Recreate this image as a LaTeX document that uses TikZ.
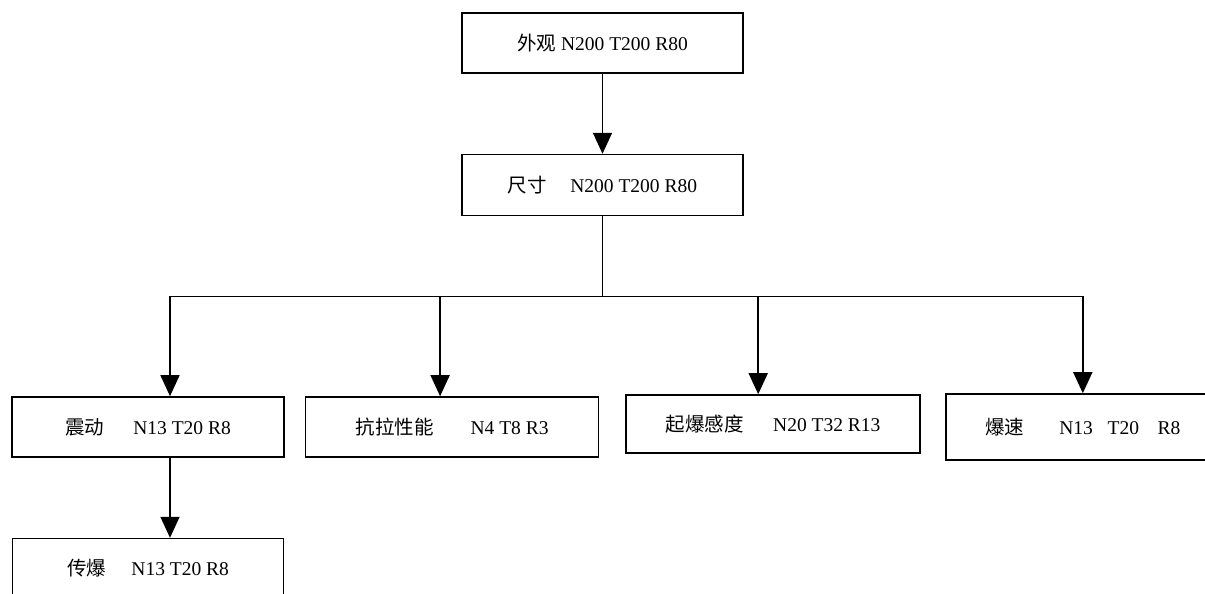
\documentclass[tikz,border=0pt]{standalone}
\usepackage{fontspec}
\setmainfont{Liberation Serif}
\newfontfamily\cjk{Noto Sans CJK SC}
\usepackage{tikz}
\usetikzlibrary{arrows.meta, positioning}

\begin{document}
\begin{tikzpicture}[x=1pt, y=-1pt,
    box/.style={draw, line width=1.6pt, minimum height=60pt, inner sep=0pt,
        font=\fontsize{19.5}{22}\selectfont},
    arr/.style={line width=1.6pt, -{Triangle[width=19pt,length=21pt]}}]
    \useasboundingbox (0,0) rectangle (1205,594);
    \clip (0,0) rectangle (1205,594);

	\node[box, minimum width=281pt] (wg) at (602.5,43) {{\cjk 外观} N200 T200 R80};
	\node[box, minimum width=281pt, minimum height=61pt] (cc) [below=80pt of wg] {{\cjk 尺寸}\hspace{1.2em}N200 T200 R80};
	\coordinate[below=80pt of cc.south] (jn);

	\node[box, minimum width=272pt] (zd) at (148,427) {{\cjk 震动}\hspace{1.5em}N13 T20 R8};
	\node[box, minimum width=293pt] (kl) [right=20pt of zd] {{\cjk 抗拉性能}\hspace{1.9em}N4 T8 R3};
	\node[box, minimum width=294pt, minimum height=58pt] (qb) [right=26pt of kl, yshift=3pt] {{\cjk 起爆感度}\hspace{1.5em}N20 T32 R13};
	\node[box, minimum width=274pt, minimum height=66pt] (bs) [right=24pt of qb, yshift=-3pt] {{\cjk 爆速}\hspace{1.8em}N13\hspace{0.75em}T20\hspace{0.95em}R8};
	\node[box, minimum width=271pt] (cb) [below=80pt of zd] {{\cjk 传爆}\hspace{1.3em}N13 T20 R8};
	
	\draw[arr] (wg) -- (cc);
	\draw[line width=1.6pt] (cc.south) -- (jn);
	\draw[arr] (jn) -| ([xshift=22pt]zd.north);
	\draw[arr] (jn) -| ([xshift=-12pt]kl.north);
	\draw[arr] (jn) -| ([xshift=-15pt]qb.north);
	\draw[arr] (jn) -| (bs.north);
	\draw[arr] ([xshift=22pt]zd.south) -- ([xshift=22pt]cb.north);

\end{tikzpicture}
\end{document}
